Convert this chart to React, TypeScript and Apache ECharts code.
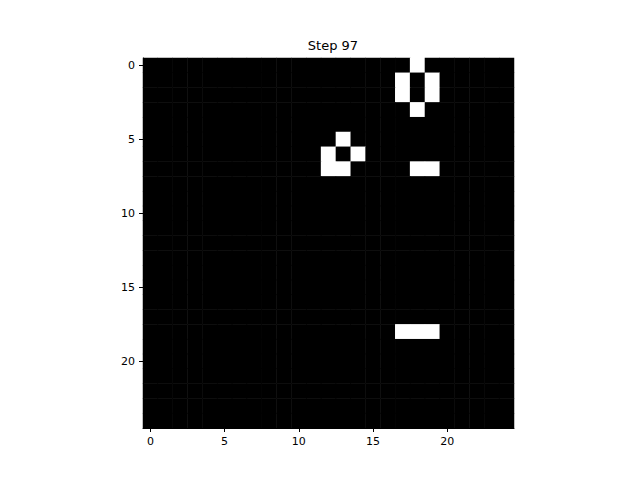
import { useRef, useEffect } from "react";
import * as echarts from "echarts";

const SIZE = 25;
const STEP = 97;
// live cells as [row, col]
const LIVE: [number, number][] = [
  [0, 18], [1, 17], [1, 19], [2, 17], [2, 19], [3, 18],
  [5, 13], [6, 12], [6, 14], [7, 12], [7, 13],
  [7, 18], [7, 19],
  [18, 17], [18, 18], [18, 19],
];
const IDX = Array.from({ length: SIZE }, (_, i) => String(i));

export default function App() {
  const ref = useRef<HTMLDivElement>(null);
  useEffect(() => {
    if (!ref.current) return;
    const chart = echarts.init(ref.current, null, { renderer: "svg" });
    const alive = new Set(LIVE.map(([r, c]) => r * SIZE + c));
    const data: number[][] = [];
    for (let r = 0; r < SIZE; r++)
      for (let c = 0; c < SIZE; c++) data.push([c, r, alive.has(r * SIZE + c) ? 1 : 0]);
    const axis = {
      type: "category" as const,
      data: IDX,
      axisLine: { show: true, lineStyle: { color: "#000" } },
      axisTick: { show: true, alignWithLabel: true, interval: (i: number) => i % 5 === 0, length: 4, lineStyle: { color: "#000" } },
      axisLabel: { interval: (i: number) => i % 5 === 0, color: "#000", fontSize: 11, fontFamily: "DejaVu Sans" },
      splitLine: { show: false },
    };
    chart.setOption({
      animation: false,
      title: { text: "Step " + STEP, left: 328, top: 34, textAlign: "center", textStyle: { fontSize: 13, fontWeight: "normal", color: "#000", fontFamily: "DejaVu Sans" } },
      grid: { left: 143, right: 126, top: 58, bottom: 52 },
      xAxis: { ...axis },
      yAxis: { ...axis, inverse: true },
      visualMap: { show: false, type: "piecewise", dimension: 2, pieces: [{ value: 0, color: "#000" }, { value: 1, color: "#fff" }] },
      series: [{ type: "heatmap", data, itemStyle: { borderWidth: 0 } }],
    });
    return () => chart.dispose();
  }, []);
  return <div ref={ref} style={{ width: 640, height: 480, margin: -8 }} />;
}
